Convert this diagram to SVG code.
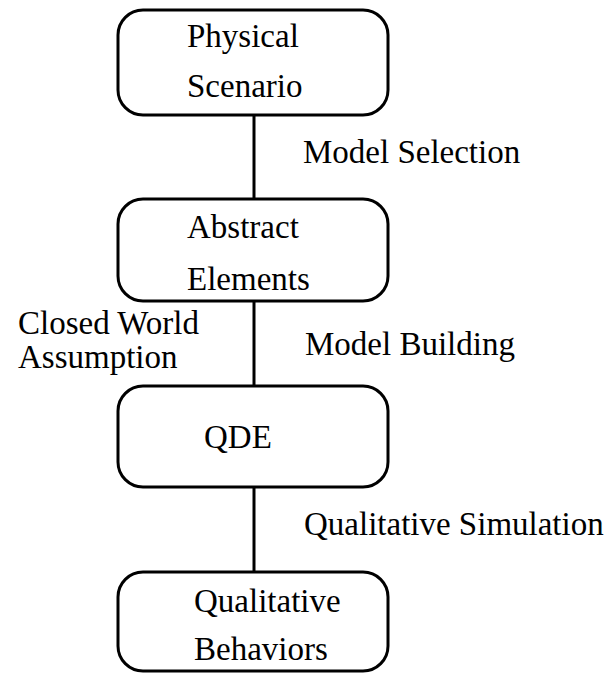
<svg xmlns="http://www.w3.org/2000/svg" width="614" height="674" viewBox="0 0 614 674">
<style>
.box{fill:#fff;stroke:#000;stroke-width:3}
.edge{stroke:#000;stroke-width:3;fill:none}
.t{font-family:'Liberation Serif','Times New Roman',serif;font-size:33px;fill:#000}
</style>
<rect width="614" height="674" fill="#fff"/>
<g id="connectors">
<line class="edge" x1="254" y1="115" x2="254" y2="199"/>
<line class="edge" x1="254" y1="301" x2="254" y2="386"/>
<line class="edge" x1="254" y1="487" x2="254" y2="572"/>
</g>
<g id="physical-scenario">
<rect class="box" x="118" y="10" width="270" height="105" rx="25"/>
<text class="t" x="187" y="47">Physical</text>
<text class="t" x="187" y="97">Scenario</text>
</g>
<g id="abstract-elements">
<rect class="box" x="118" y="199" width="270" height="102" rx="25"/>
<text class="t" x="187" y="238">Abstract</text>
<text class="t" x="187" y="290">Elements</text>
</g>
<g id="qde">
<rect class="box" x="118" y="386" width="270" height="101" rx="25"/>
<text class="t" x="204" y="448">QDE</text>
</g>
<g id="qualitative-behaviors">
<rect class="box" x="118" y="572" width="270" height="99" rx="25"/>
<text class="t" x="194" y="612">Qualitative</text>
<text class="t" x="194" y="660">Behaviors</text>
</g>
<g id="labels">
<text class="t" x="303" y="163">Model Selection</text>
<text class="t" x="18" y="334">Closed World</text>
<text class="t" x="18" y="368">Assumption</text>
<text class="t" x="305" y="355">Model Building</text>
<text class="t" x="304" y="535">Qualitative Simulation</text>
</g>
</svg>
